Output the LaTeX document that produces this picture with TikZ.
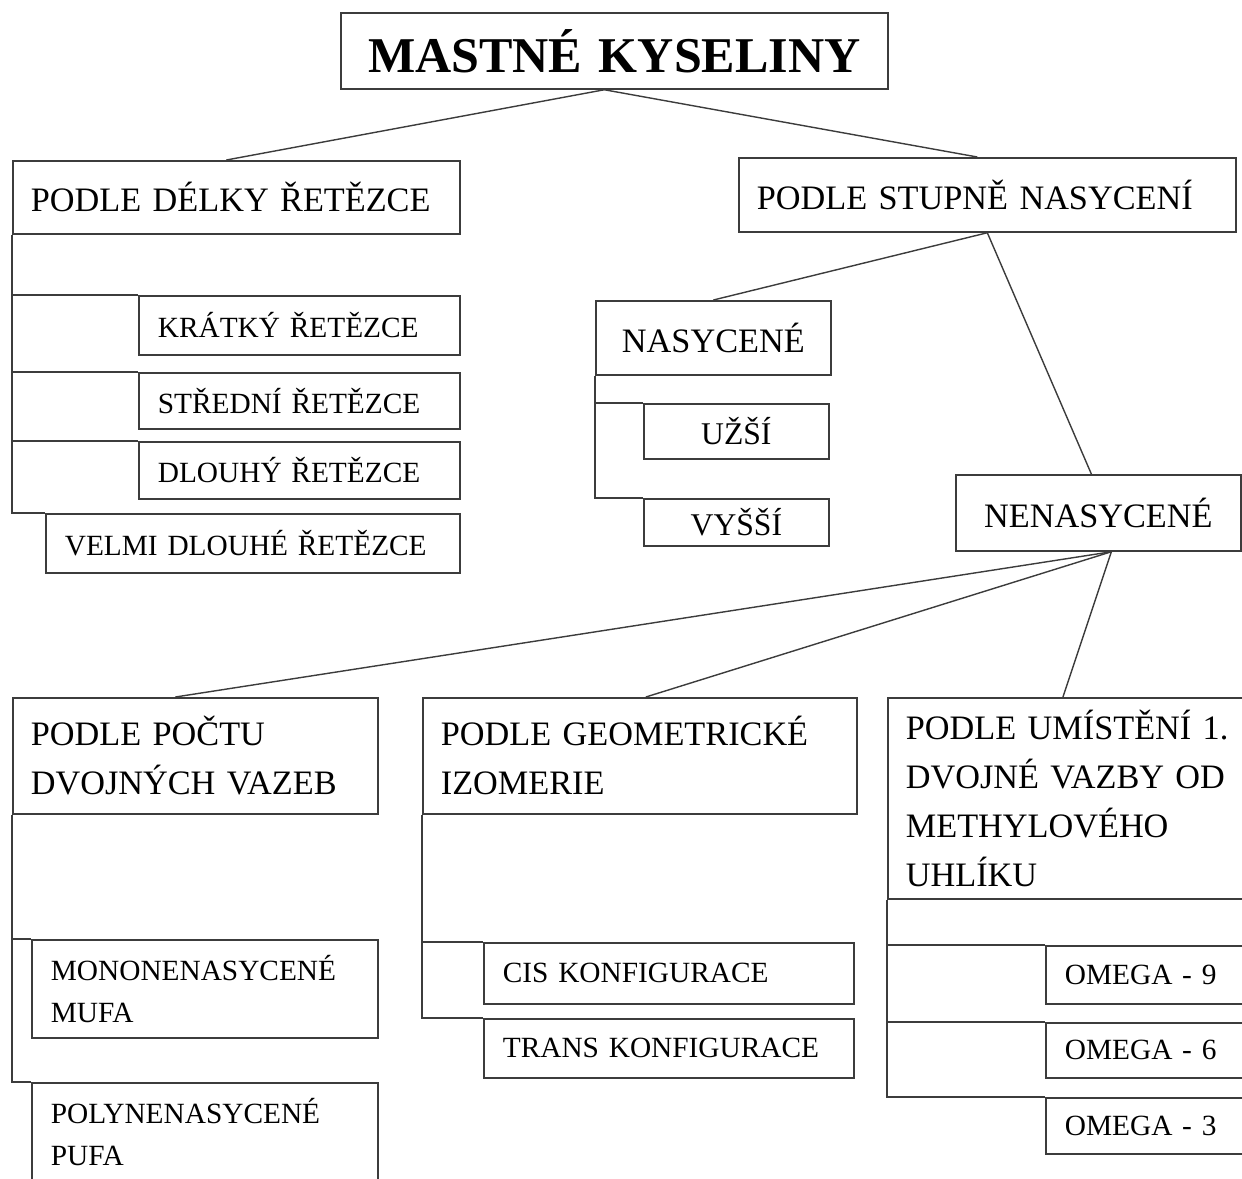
\documentclass[tikz,border=0pt]{standalone}
\usepackage{fontspec}
\setmainfont{Liberation Serif}
\usepackage{xcolor}
\definecolor{Line}{RGB}{60,60,60}
\usepackage{tikz}

\tikzset{
	box/.style={draw=Line, line width=1pt, anchor=north west, inner ysep=0pt},
	hlavni/.style={box, align=center, inner xsep=0.36cm, font=\fontsize{28.5}{34}\selectfont\bfseries},
	skupina/.style={box, align=left, inner xsep=0.36cm, font=\fontsize{19.5}{27.9}\selectfont},
	polozka/.style={box, align=left, inner xsep=0.38cm, font=\fontsize{16.7}{23.9}\selectfont},
	spoj/.style={draw=Line, line width=0.8pt},
	vetev/.style={draw=Line, line width=1pt},
}

\begin{document}
\begin{tikzpicture}[x=0.02cm, y=-0.02cm]
		
		\useasboundingbox (0,0) rectangle (1242,1178);
		\clip (0,0) rectangle (1242,1178);
		
		% Boxes
		\node[hlavni, text width=10.22cm, minimum height=1.52cm] (mk) at (340,12) {MASTNÉ KYSELINY};
		
		\node[skupina, text width=8.22cm, minimum height=1.46cm] (delka) at (12,160) {PODLE DÉLKY ŘETĚZCE};
		\node[skupina, text width=9.22cm, minimum height=1.48cm] (stupen) at (738,157) {PODLE STUPNĚ NASYCENÍ};
		
		\node[polozka, text width=5.66cm, minimum height=1.18cm] (kratky) at (138,295) {KRÁTKÝ ŘETĚZCE};
		\node[polozka, text width=5.66cm, minimum height=1.12cm] (stredni) at (138,372) {STŘEDNÍ ŘETĚZCE};
		\node[polozka, text width=5.66cm, minimum height=1.14cm] (dlouhy) at (138,441) {DLOUHÝ ŘETĚZCE};
		\node[polozka, text width=7.52cm, minimum height=1.18cm] (velmi) at (45,513) {VELMI DLOUHÉ ŘETĚZCE};
		
		\node[skupina, align=center, text width=3.98cm, minimum height=1.48cm] (nasycene) at (595,300) {NASYCENÉ};
		\node[polozka, align=center, font=\fontsize{18}{24}\selectfont, text width=2.94cm, minimum height=1.10cm] (uzsi) at (643,403) {UŽŠÍ};
		\node[polozka, align=center, font=\fontsize{18}{24}\selectfont, text width=2.94cm, minimum height=0.94cm] (vyssi) at (643,498) {VYŠŠÍ};
		
		\node[skupina, align=center, text width=4.98cm, minimum height=1.52cm] (nenasycene) at (955,474) {NENASYCENÉ};
		
		\node[skupina, text width=6.58cm, minimum height=2.32cm] (pocet) at (12,697) {PODLE POČTU\\DVOJNÝCH VAZEB};
		\node[skupina, text width=7.96cm, minimum height=2.32cm] (geometrie) at (422,697) {PODLE GEOMETRICKÉ\\IZOMERIE};
		\node[skupina, text width=7.40cm, minimum height=4.02cm] (umisteni) at (887,697) {PODLE UMÍSTĚNÍ 1.\\DVOJNÉ VAZBY OD\\METHYLOVÉHO\\UHLÍKU};
		
		\node[polozka, text width=6.16cm, minimum height=1.96cm] (mufa) at (31,939) {MONONENASYCENÉ\\MUFA};
		\node[polozka, text width=6.16cm, minimum height=1.96cm] (pufa) at (31,1082) {POLYNENASYCENÉ\\PUFA};
		
		\node[polozka, text width=6.64cm, minimum height=1.22cm] (cis) at (483,942) {CIS KONFIGURACE};
		\node[polozka, text width=6.64cm, minimum height=1.18cm] (trans) at (483,1018) {TRANS KONFIGURACE};
		
		\node[polozka, text width=4.20cm, minimum height=1.16cm] (omega9) at (1045,945) {OMEGA - 9};
		\node[polozka, text width=4.20cm, minimum height=1.10cm] (omega6) at (1045,1022) {OMEGA - 6};
		\node[polozka, text width=4.20cm, minimum height=1.12cm] (omega3) at (1045,1097) {OMEGA - 3};
		
		% Lines
		\draw[spoj] ([xshift=-0.2cm]mk.south) -- ([xshift=-0.2cm]delka.north);
		\draw[spoj] ([xshift=-0.2cm]mk.south) -- ([xshift=-0.2cm]stupen.north);
		\draw[spoj] (stupen.south) -- (nasycene.north);
		\draw[spoj] (stupen.south) -- ([xshift=-0.14cm]nenasycene.north);
		\draw[spoj] ([xshift=0.26cm]nenasycene.south) -- ([xshift=-0.4cm]pocet.north);
		\draw[spoj] ([xshift=0.26cm]nenasycene.south) -- ([xshift=0.12cm]geometrie.north);
		\draw[spoj] ([xshift=0.26cm]nenasycene.south) -- ([xshift=3.52cm]umisteni.north west);
		
		% Brackets
		\foreach \dite in {kratky, stredni, dlouhy, velmi}
			\draw[vetev] (delka.south west) |- (\dite.north west);
		\foreach \dite in {uzsi, vyssi}
			\draw[vetev] (nasycene.south west) |- (\dite.north west);
		\foreach \dite in {mufa, pufa}
			\draw[vetev] (pocet.south west) |- (\dite.north west);
		\foreach \dite in {cis, trans}
			\draw[vetev] (geometrie.south west) |- (\dite.north west);
		\foreach \dite in {omega9, omega6, omega3}
			\draw[vetev] (umisteni.south west) |- (\dite.north west);
		
	\end{tikzpicture}
\end{document}
